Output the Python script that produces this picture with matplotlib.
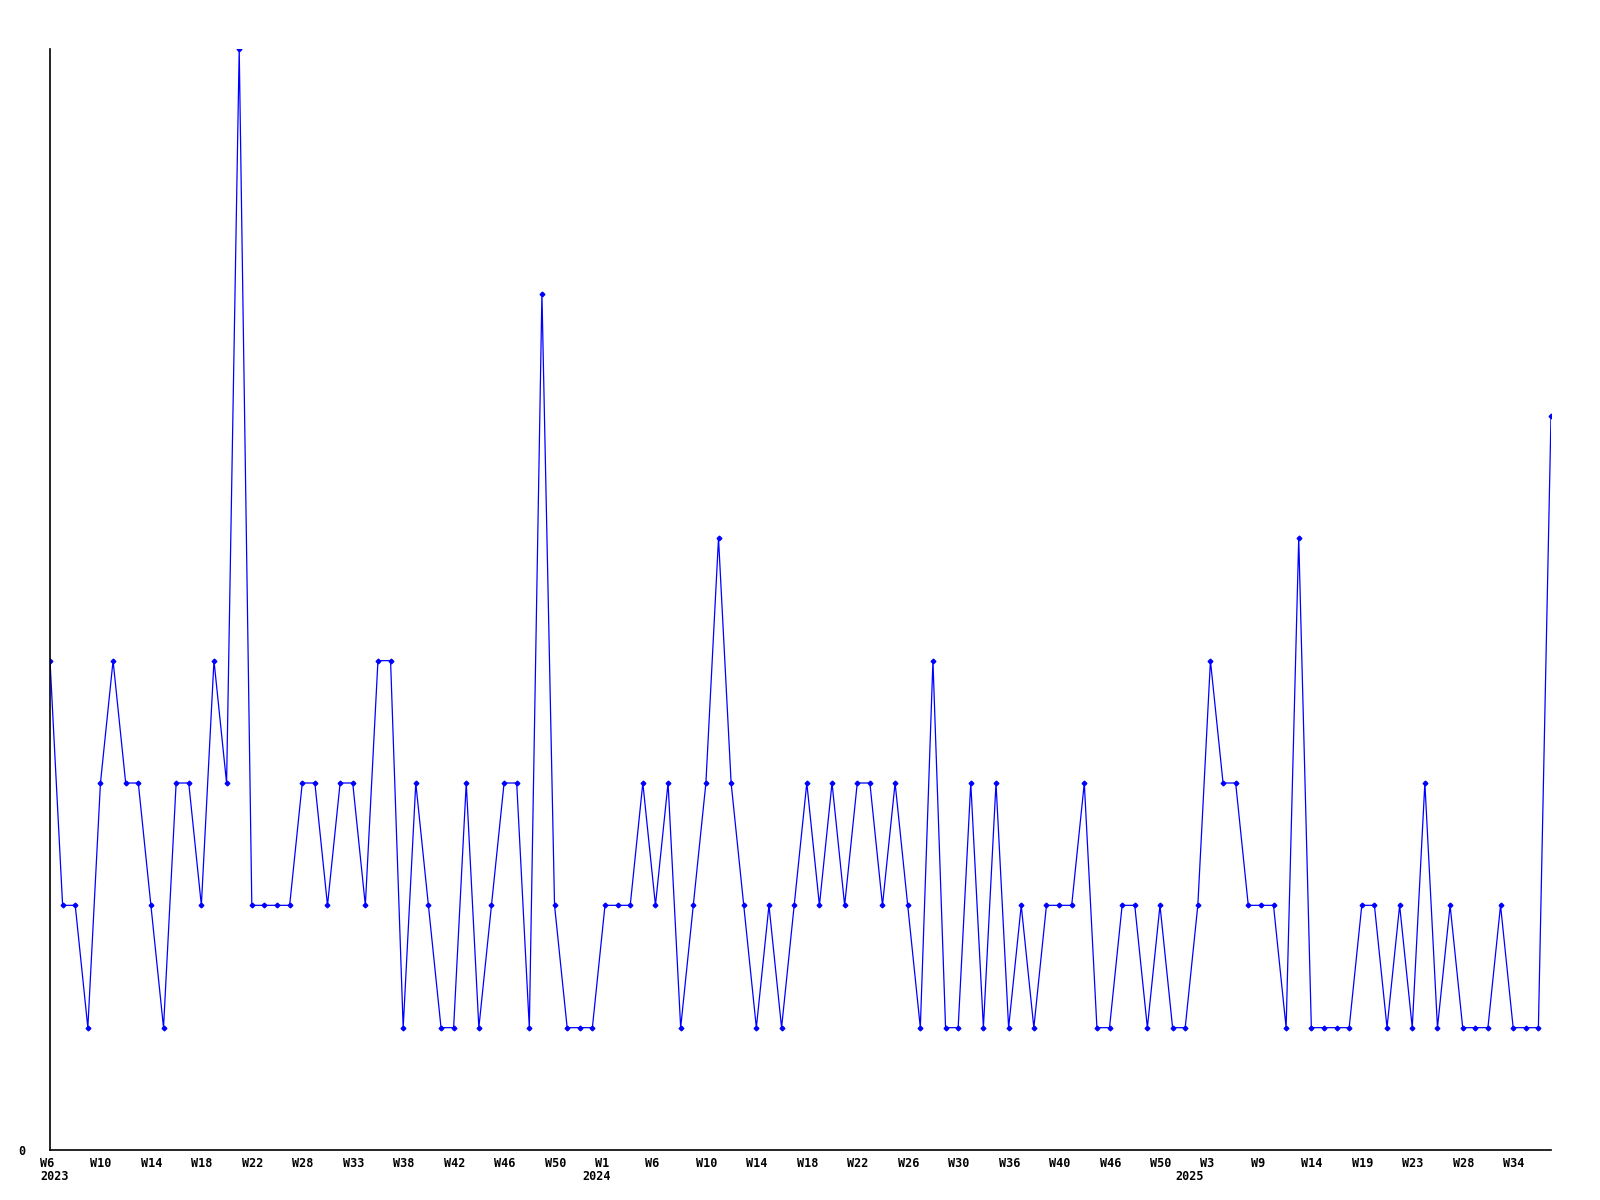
import numpy as np
import matplotlib.pyplot as plt
from matplotlib import transforms

# weekly counts, 2023 W6 -> 2025 W37 (one point per recorded week)
values = [4, 2, 2, 1, 3, 4, 3, 3, 2, 1,
          3, 3, 2, 4, 3, 9, 2, 2, 2, 2,
          3, 3, 2, 3, 3, 2, 4, 4, 1, 3,
          2, 1, 1, 3, 1, 2, 3, 3, 1, 7,
          2, 1, 1, 1, 2, 2, 2, 3, 2, 3,
          1, 2, 3, 5, 3, 2, 1, 2, 1, 2,
          3, 2, 3, 2, 3, 3, 2, 3, 2, 1,
          4, 1, 1, 3, 1, 3, 1, 2, 1, 2,
          2, 2, 3, 1, 1, 2, 2, 1, 2, 1,
          1, 2, 4, 3, 3, 2, 2, 2, 1, 5,
          1, 1, 1, 1, 2, 2, 1, 2, 1, 3,
          1, 2, 1, 1, 1, 2, 1, 1, 1, 6]

# a label every 4th point
week_labels = ["W6", "W10", "W14", "W18", "W22", "W28", "W33", "W38", "W42", "W46",
               "W50", "W1", "W6", "W10", "W14", "W18", "W22", "W26", "W30", "W36",
               "W40", "W46", "W50", "W3", "W9", "W14", "W19", "W23", "W28", "W34"]
years = ["2023", "2024", "2025"]
year_pos = [0, 43, 90]

x = np.arange(len(values))
tick_pos = np.arange(len(week_labels)) * 4

fig = plt.figure(figsize=(16, 12), dpi=100)
ax = fig.add_axes([50 / 1600, 50 / 1200, 1501 / 1600, 1101 / 1200])

ax.plot(x, values, color="#0000ff", lw=0.9, marker="D", ms=2.4, mec="#0000ff", mfc="#0000ff")

ax.set_xlim(0, len(values) - 1)
ax.set_ylim(0, max(values))

for s in ["top", "right"]:
    ax.spines[s].set_visible(False)
for s in ["left", "bottom"]:
    ax.spines[s].set_linewidth(1.2)
    ax.spines[s].set_color("black")

font = dict(family="DejaVu Sans Mono", weight="bold", size=8.5)

ax.set_yticks([0])
ax.set_yticklabels(["0"], **font)
ax.tick_params(axis="y", length=0, pad=18)

ax.set_xticks(tick_pos)
ax.set_xticklabels(week_labels, ha="left", **font)
ax.tick_params(axis="x", length=0, pad=5)
shift = transforms.ScaledTranslation(-10 / 100, 0, fig.dpi_scale_trans)
for lbl in ax.get_xticklabels():
    lbl.set_transform(lbl.get_transform() + shift)

# year captions under the first week of each year
trans = transforms.blended_transform_factory(ax.transData, ax.transAxes)
for yr, p in zip(years, year_pos):
    ax.text(p, 0, yr, ha="left", va="center",
            transform=trans + transforms.ScaledTranslation(-10 / 100, -27 / 100, fig.dpi_scale_trans),
            **font)

fig.savefig("out.png", dpi=100)
